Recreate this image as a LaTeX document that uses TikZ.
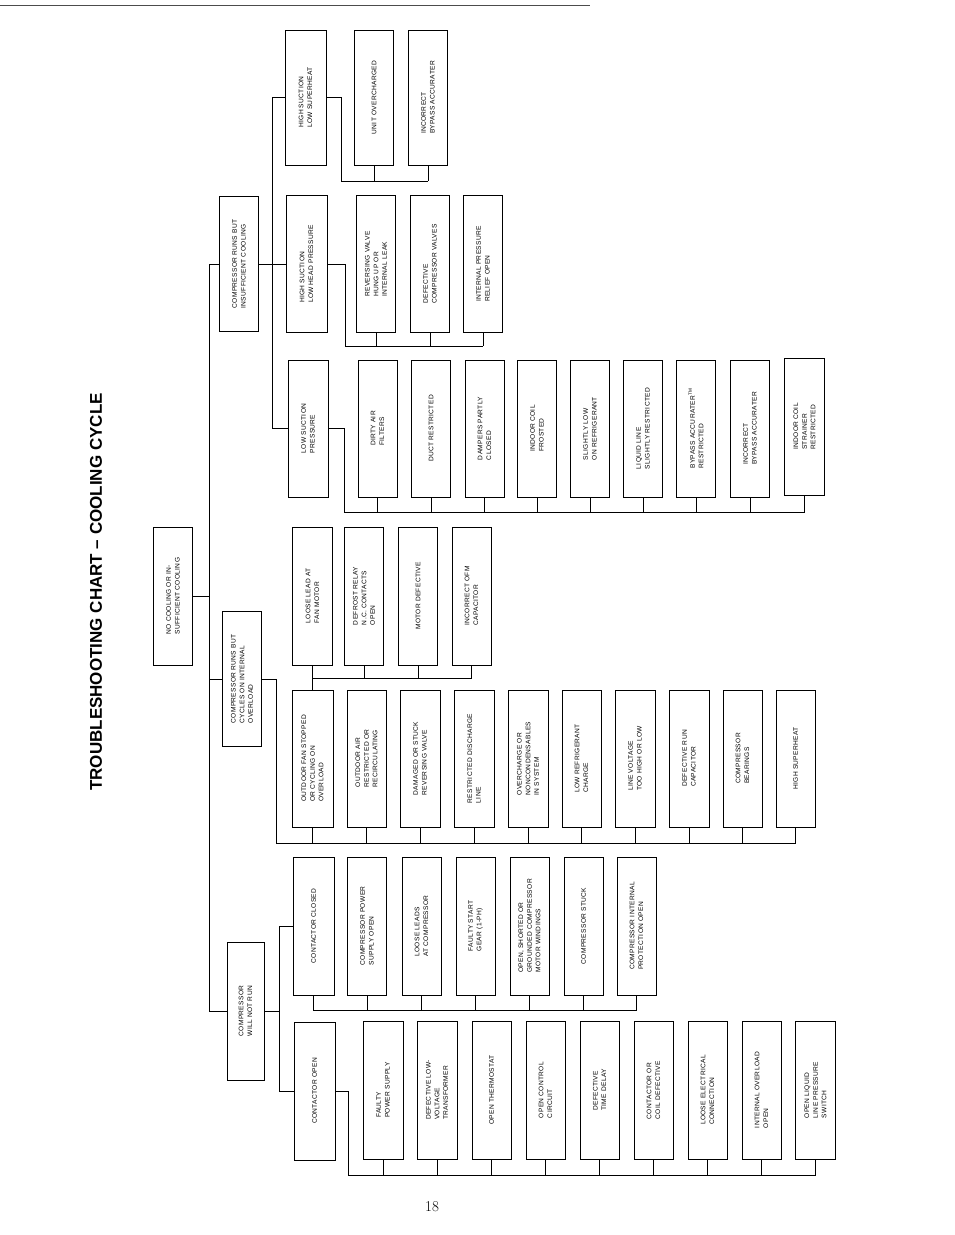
\documentclass[tikz,border=0pt]{standalone}
\usepackage{fontspec}
\setsansfont{Liberation Sans}
\newfontfamily\boxfont[LetterSpace=5]{Liberation Sans}
\tikzset{
  cause/.style={draw=black,line width=0.9pt,rotate=90,minimum height=39pt,minimum width=137pt,
    inner sep=2pt,align=left,font=\boxfont\fontsize{6.6}{8.6}\selectfont},
  wire/.style={line width=0.5pt}
}
\begin{document}
\begin{tikzpicture}[x=1pt,y=-1pt]
  \useasboundingbox (0,0) rectangle (954,1235);
  \draw[line width=0.6pt,black!70] (0,5) -- (590,5);
  \node[rotate=90,font=\sffamily\bfseries\fontsize{17}{20}\selectfont] (title) at (96,592) {TROUBLESHOOTING CHART -- COOLING CYCLE};
  \node[font=\fontsize{15}{18}\selectfont] (page) at (432,1207) {18};
  % main boxes
  \node[cause,minimum width=138pt] (root) at (173,596) {NO COOLING OR IN-\\SUFFICIENT COOLING};
  \node[cause,minimum width=135pt] (insuff) at (239,264) {COMPRESSOR RUNS BUT\\INSUFFICIENT COOLING};
  \node[cause,minimum width=135pt] (ovld) at (242,679) {COMPRESSOR RUNS BUT\\CYCLES ON INTERNAL\\OVERLOAD};
  \node[cause,minimum width=138pt,minimum height=37pt] (norun) at (245.5,1011) {COMPRESSOR\\WILL NOT RUN};
  % insufficient cooling
  \node[cause,minimum width=135pt,minimum height=41pt] (hslsh) at (305.5,97.5) {HIGH SUCTION\\LOW SUPERHEAT};
  \node[cause,minimum width=135pt] (unitover) at (374,97.5) {UNIT OVERCHARGED};
  \node[cause,minimum width=135pt] (incbyp) at (428,97.5) {INCORRECT\\BYPASS ACCURATER};
  \node[cause,minimum height=41pt] (hslhp) at (306.5,264) {HIGH SUCTION\\LOW HEAD PRESSURE};
  \node[cause] (revvalve) at (376,264) {REVERSING VALVE\\HUNG UP OR\\INTERNAL LEAK};
  \node[cause] (defvalves) at (430,264) {DEFECTIVE\\COMPRESSOR VALVES};
  \node[cause] (relief) at (483,264) {INTERNAL PRESSURE\\RELIEF OPEN};
  \node[cause,minimum height=40pt] (lowsuct) at (308,428.5) {LOW SUCTION\\PRESSURE};
  \node[cause] (dirty) at (377.5,428.5) {DIRTY AIR\\FILTERS};
  \node[cause] (duct) at (431,428.5) {DUCT RESTRICTED};
  \node[cause] (dampers) at (484.5,428.5) {DAMPERS PARTLY\\CLOSED};
  \node[cause] (frosted) at (537,428.5) {INDOOR COIL\\FROSTED};
  \node[cause] (slowref) at (590,428.5) {SLIGHTLY LOW\\ON REFRIGERANT};
  \node[cause] (liquid) at (643,428.5) {LIQUID LINE\\SLIGHTLY RESTRICTED};
  \node[cause] (bypass) at (696,428.5) {BYPASS ACCURATER\textsuperscript{TM}\\RESTRICTED};
  \node[cause] (incbyp2) at (750,428.5) {INCORRECT\\BYPASS ACCURATER};
  \node[cause,minimum height=40pt] (strainer) at (804.5,426.5) {INDOOR COIL\\STRAINER\\RESTRICTED};
  % outdoor fan
  \node[cause,minimum width=138pt,minimum height=40pt] (looselead) at (312.5,596) {LOOSE LEAD AT\\FAN MOTOR};
  \node[cause,minimum width=138pt] (defrost) at (364,596) {DEFROST RELAY\\N.C. CONTACTS\\OPEN};
  \node[cause,minimum width=138pt] (motor) at (418,596) {MOTOR DEFECTIVE};
  \node[cause,minimum width=138pt] (ofmcap) at (471.5,596) {INCORRECT OFM\\CAPACITOR};
  % internal overload
  \node[cause,minimum height=41pt] (fanstop) at (312.5,758.5) {OUTDOOR FAN STOPPED\\OR CYCLING ON\\OVERLOAD};
  \node[cause] (outair) at (366.5,758.5) {OUTDOOR AIR\\RESTRICTED OR\\RECIRCULATING};
  \node[cause,minimum height=40pt] (damaged) at (420,758.5) {DAMAGED OR STUCK\\REVERSING VALVE};
  \node[cause,minimum height=40pt] (discharge) at (474,758.5) {RESTRICTED DISCHARGE\\LINE};
  \node[cause,minimum height=40pt] (overch) at (528,758.5) {OVERCHARGE OR\\NONCONDENSABLES\\IN SYSTEM};
  \node[cause] (lowref) at (581.5,758.5) {LOW REFRIGERANT\\CHARGE};
  \node[cause,minimum height=40pt] (linevolt) at (635,758.5) {LINE VOLTAGE\\TOO HIGH OR LOW};
  \node[cause,minimum height=40pt] (runcap) at (689,758.5) {DEFECTIVE RUN\\CAPACITOR};
  \node[cause] (bearings) at (742.5,758.5) {COMPRESSOR\\BEARINGS};
  \node[cause] (hisuper) at (795.5,758.5) {HIGH SUPERHEAT};
  % contactor closed
  \node[cause,minimum width=138pt,minimum height=41pt] (cclosed) at (313.5,926) {CONTACTOR CLOSED};
  \node[cause,minimum width=138pt] (powopen) at (367,926) {COMPRESSOR POWER\\SUPPLY OPEN};
  \node[cause,minimum width=138pt] (leads) at (421.5,926) {LOOSE LEADS\\AT COMPRESSOR};
  \node[cause,minimum width=138pt] (startgear) at (475.5,926) {FAULTY START\\GEAR (1-PH)};
  \node[cause,minimum width=138pt] (windings) at (529.5,926) {OPEN, SHORTED OR\\GROUNDED COMPRESSOR\\MOTOR WINDINGS};
  \node[cause,minimum width=138pt] (stuck) at (583.5,926) {COMPRESSOR STUCK};
  \node[cause,minimum width=138pt] (protect) at (636.5,926) {COMPRESSOR INTERNAL\\PROTECTION OPEN};
  % contactor open
  \node[cause,minimum width=138pt,minimum height=41pt] (copen) at (314.5,1091) {CONTACTOR OPEN};
  \node[cause,minimum width=138pt,minimum height=40pt] (faultypow) at (383,1090) {FAULTY\\POWER SUPPLY};
  \node[cause,minimum width=138pt,minimum height=40pt] (lowvolt) at (437,1090) {DEFECTIVE LOW-\\VOLTAGE\\TRANSFORMER};
  \node[cause,minimum width=138pt] (thermo) at (491.5,1090) {OPEN THERMOSTAT};
  \node[cause,minimum width=138pt] (control) at (545.5,1090) {OPEN CONTROL\\CIRCUIT};
  \node[cause,minimum width=138pt] (delay) at (599.5,1090) {DEFECTIVE\\TIME DELAY};
  \node[cause,minimum width=138pt] (coil) at (653.5,1090) {CONTACTOR OR\\COIL DEFECTIVE};
  \node[cause,minimum width=138pt] (loosecon) at (707.5,1090) {LOOSE ELECTRICAL\\CONNECTION};
  \node[cause,minimum width=138pt] (intovl) at (761.5,1090) {INTERNAL OVERLOAD\\OPEN};
  \node[cause,minimum width=138pt,minimum height=40pt] (liqsw) at (815.5,1090) {OPEN LIQUID\\LINE PRESSURE\\SWITCH};
  % trunk
  \coordinate (trunkT) at (209,264);
  \coordinate (trunkB) at (209,1011);
  \draw[wire] (root.south) -- (root.south -| trunkT);
  \draw[wire] (trunkT) -- (trunkB) -- (norun.north);
  \draw[wire] (trunkT) -- (insuff.north);
  \draw[wire] (ovld.north -| trunkT) -- (ovld.north);
  % insufficient cooling branches
  \coordinate (insJ) at (272,264);
  \draw[wire] (insuff.south) -- (insJ);
  \draw[wire] (hslsh.north -| insJ) -- (lowsuct.north -| insJ);
  \draw[wire] (hslsh.north -| insJ) -- (hslsh.north);
  \draw[wire] (insJ) -- (hslhp.north);
  \draw[wire] (lowsuct.north -| insJ) -- (lowsuct.north);
  \coordinate (busA) at (341,181);
  \draw[wire] (hslsh.south) -- (hslsh.south -| busA) -- (busA) -- (busA -| incbyp);
  \foreach \n in {unitover,incbyp} \draw[wire] (\n.west) -- (\n.west |- busA);
  \coordinate (busB) at (345,346);
  \draw[wire] (hslhp.south) -- (hslhp.south -| busB) -- (busB) -- (busB -| relief);
  \foreach \n in {revvalve,defvalves,relief} \draw[wire] (\n.west) -- (\n.west |- busB);
  \coordinate (busC) at (344,512);
  \draw[wire] (lowsuct.south) -- (lowsuct.south -| busC) -- (busC) -- (busC -| strainer);
  \foreach \n in {dirty,duct,dampers,frosted,slowref,liquid,bypass,incbyp2,strainer} \draw[wire] (\n.west) -- (\n.west |- busC);
  % outdoor fan causes
  \coordinate (busD) at (312.5,678);
  \draw[wire] (fanstop.east) -- (busD) -- (busD -| ofmcap);
  \foreach \n in {looselead,defrost,motor,ofmcap} \draw[wire] (\n.west) -- (\n.west |- busD);
  % internal overload causes
  \coordinate (busE) at (276,843);
  \draw[wire] (ovld.south) -- (ovld.south -| busE) -- (busE) -- (busE -| hisuper);
  \foreach \n in {fanstop,outair,damaged,discharge,overch,lowref,linevolt,runcap,bearings,hisuper} \draw[wire] (\n.west) -- (\n.west |- busE);
  % compressor will not run
  \coordinate (runJ) at (279,1011);
  \draw[wire] (norun.south) -- (runJ);
  \draw[wire] (cclosed.north -| runJ) -- (copen.north -| runJ);
  \draw[wire] (cclosed.north -| runJ) -- (cclosed.north);
  \draw[wire] (copen.north -| runJ) -- (copen.north);
  \coordinate (busF) at (315,1010);
  \draw[wire] (cclosed.west) -- (cclosed.west |- busF) -- (busF -| protect);
  \foreach \n in {powopen,leads,startgear,windings,stuck,protect} \draw[wire] (\n.west) -- (\n.west |- busF);
  \coordinate (busG) at (348,1175);
  \draw[wire] (copen.south) -- (copen.south -| busG) -- (busG) -- (busG -| liqsw);
  \foreach \n in {faultypow,lowvolt,thermo,control,delay,coil,loosecon,intovl,liqsw} \draw[wire] (\n.west) -- (\n.west |- busG);
\end{tikzpicture}
\end{document}
